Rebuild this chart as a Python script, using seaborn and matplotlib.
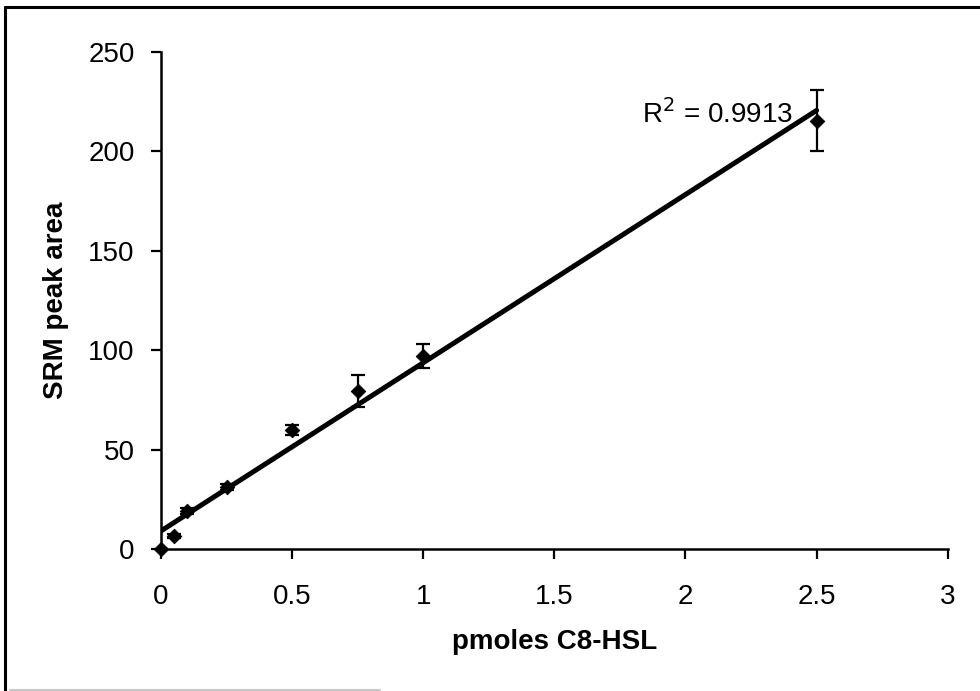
import matplotlib
matplotlib.use("Agg")
import matplotlib.pyplot as plt
from matplotlib.lines import Line2D
import pandas as pd
import seaborn as sns

# Calibration data: C8-HSL amount vs SRM peak area
pmoles = [0.0, 0.05, 0.1, 0.25, 0.5, 0.75, 1.0, 2.5]
peak_area = [0.0, 6.5, 19.0, 31.0, 60.0, 79.5, 97.0, 215.5]
peak_err = [0.0, 1.0, 1.5, 1.5, 2.5, 8.0, 6.0, 15.5]
r_squared = "0.9913"

x_ticks = [0, 0.5, 1, 1.5, 2, 2.5, 3]
x_tick_labels = ["0", "0.5", "1", "1.5", "2", "2.5", "3"]
y_ticks = [0, 50, 100, 150, 200, 250]

df = pd.DataFrame({"pmoles": pmoles, "area": peak_area, "err": peak_err})

sns.set_theme(style="white", rc={"text.color": "black", "axes.labelcolor": "black",
                                 "xtick.color": "black", "ytick.color": "black",
                                 "axes.edgecolor": "black"})
plt.rcParams["font.family"] = ["Liberation Sans", "DejaVu Sans"]

fig = plt.figure(figsize=(9.8, 6.91), dpi=100)
ax = fig.add_axes([0.1643, 0.2055, 0.8027, 0.7192])

# Linear trendline over the data range
sns.regplot(data=df, x="pmoles", y="area", ax=ax, ci=None, truncate=True,
            scatter=False, line_kws={"color": "black", "lw": 3.6})

# Error bars and diamond markers
ax.errorbar(df["pmoles"], df["area"], yerr=df["err"], fmt="none",
            ecolor="black", elinewidth=1.6, capsize=5, capthick=1.6, zorder=3)
sns.scatterplot(data=df, x="pmoles", y="area", ax=ax, marker="D", s=55,
                color="black", edgecolor="black", zorder=4, clip_on=False)

ax.text(1.835, 219, r"R$^2$ = " + r_squared, fontsize=20, ha="left", va="center")

ax.set_xlim(0, 3)
ax.set_ylim(0, 250)
ax.set_xticks(x_ticks)
ax.set_xticklabels(x_tick_labels)
ax.set_yticks(y_ticks)
ax.tick_params(axis="both", labelsize=20, direction="out",
               length=7, width=1.6, left=True, bottom=True)
ax.tick_params(axis="y", pad=12)
ax.tick_params(axis="x", pad=18)
for side in ("top", "right"):
    ax.spines[side].set_visible(False)
for side in ("left", "bottom"):
    ax.spines[side].set_linewidth(1.8)

ax.set_xlabel("pmoles C8-HSL", fontsize=20, fontweight="bold", labelpad=14)
ax.set_ylabel("SRM peak area", fontsize=20, fontweight="bold", labelpad=14)

# Outer frame (top and left edges)
fig.add_artist(Line2D([5 / 980, 1.0], [1 - 7 / 691, 1 - 7 / 691],
                      transform=fig.transFigure, color="black", lw=2.2))
fig.add_artist(Line2D([5 / 980, 5 / 980], [0.0, 1 - 7 / 691],
                      transform=fig.transFigure, color="black", lw=2.2))
fig.add_artist(Line2D([10 / 980, 380 / 980], [1.5 / 691, 1.5 / 691],
                      transform=fig.transFigure, color="#c8c8c8", lw=1.5))

fig.savefig("out.png", dpi=100, facecolor="white")
